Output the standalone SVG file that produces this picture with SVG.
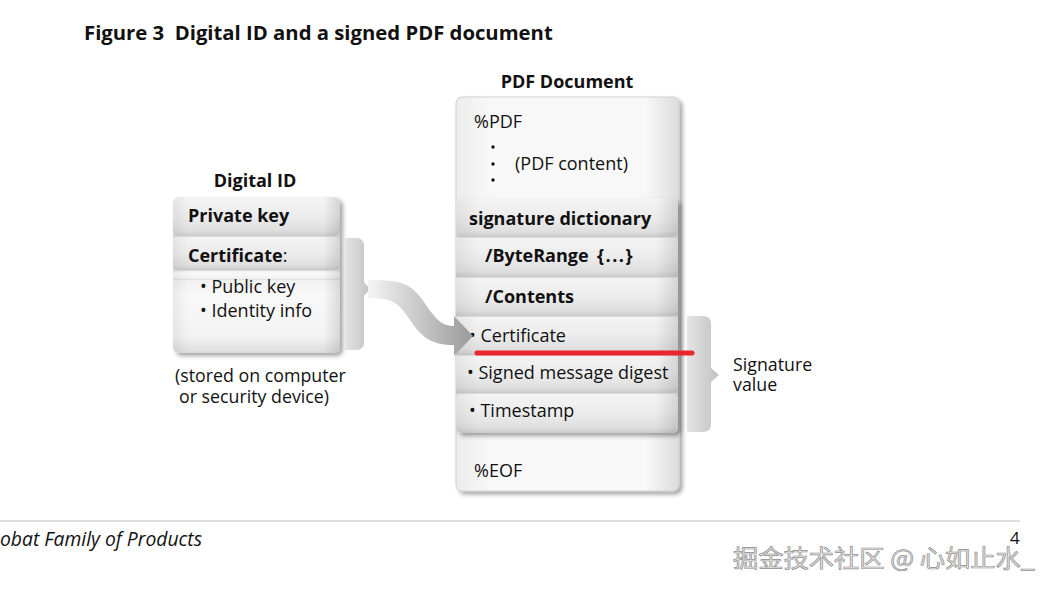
<svg xmlns="http://www.w3.org/2000/svg" width="1052" height="590" viewBox="0 0 1052 590">
<style>
text{font-family:"Open Sans","Liberation Sans",sans-serif;fill:#111}
.b{font-weight:bold}
.row{fill:url(#gRow)}
.sep{stroke:#c4c4c4;stroke-width:1}
</style>
<defs>
<linearGradient id="gRow" x1="0" y1="0" x2="0" y2="1">
<stop offset="0" stop-color="#f4f4f4"/>
<stop offset="0.5" stop-color="#ececec"/>
<stop offset="0.85" stop-color="#dfdfdf"/>
<stop offset="1" stop-color="#cbcbcb"/>
</linearGradient>
<linearGradient id="gBody" x1="0" y1="0" x2="0" y2="1">
<stop offset="0" stop-color="#ececec"/>
<stop offset="0.3" stop-color="#f9f9f9"/>
<stop offset="0.8" stop-color="#f3f3f3"/>
<stop offset="1" stop-color="#dcdcdc"/>
</linearGradient>
<linearGradient id="gDoc" x1="0" y1="0" x2="1" y2="0">
<stop offset="0" stop-color="#ececec"/>
<stop offset="0.15" stop-color="#f8f8f8"/>
<stop offset="0.85" stop-color="#f8f8f8"/>
<stop offset="1" stop-color="#dcdcdc"/>
</linearGradient>
<linearGradient id="gSide" x1="0" y1="0" x2="1" y2="0">
<stop offset="0" stop-color="#000" stop-opacity="0.06"/>
<stop offset="0.1" stop-color="#000" stop-opacity="0"/>
<stop offset="0.9" stop-color="#000" stop-opacity="0"/>
<stop offset="1" stop-color="#000" stop-opacity="0.12"/>
</linearGradient>
<linearGradient id="gBr" x1="0" y1="0" x2="1" y2="0">
<stop offset="0" stop-color="#e4e4e4"/>
<stop offset="1" stop-color="#c2c2c2"/>
</linearGradient>
<linearGradient id="gArrow" gradientUnits="userSpaceOnUse" x1="370" y1="0" x2="472" y2="0">
<stop offset="0" stop-color="#f3f3f3"/>
<stop offset="1" stop-color="#9a9a9a"/>
</linearGradient>
<filter id="sh" x="-10%" y="-10%" width="130%" height="130%">
<feDropShadow dx="3" dy="3" stdDeviation="2" flood-color="#000" flood-opacity="0.35"/>
</filter>
</defs>

<rect width="1052" height="590" fill="#ffffff"/>

<g id="title">
<text x="84" y="40" class="b" font-size="20.3" xml:space="preserve">Figure 3  Digital ID and a signed PDF document</text>
</g>

<g id="digital-id" font-size="18">
<text x="255" y="187" class="b" text-anchor="middle">Digital ID</text>
<rect x="173" y="197" width="167" height="156" rx="6" fill="#e8e8e8" filter="url(#sh)"/>
<rect x="173" y="270" width="167" height="83" rx="6" fill="url(#gBody)"/>
<rect x="173" y="270" width="167" height="10" fill="url(#gBody)"/>
<rect x="173" y="236" width="167" height="34" rx="5" class="row"/>
<rect x="173" y="197" width="167" height="39" rx="6" class="row"/>
<rect x="173" y="197" width="167" height="156" rx="6" fill="url(#gSide)"/>
<line x1="173" y1="236" x2="340" y2="236" class="sep"/>
<line x1="173" y1="270" x2="340" y2="270" class="sep"/>
<text x="188" y="222" class="b">Private key</text>
<text x="188" y="262"><tspan class="b">Certificate</tspan>:</text>
<text x="200" y="293">• Public key</text>
<text x="200" y="317">• Identity info</text>
<text x="175" y="382" font-size="17.8">(stored on computer</text>
<text x="179" y="403" font-size="17.8">or security device)</text>
</g>

<g id="pdf-document" font-size="18">
<text x="567" y="88" class="b" text-anchor="middle">PDF Document</text>
<rect x="456" y="97" width="223" height="394" rx="6" fill="url(#gDoc)" stroke="#cfcfcf" stroke-width="1" filter="url(#sh)"/>
<text x="474" y="128">%PDF</text>
<circle cx="493" cy="147" r="1.7" fill="#111"/>
<circle cx="493" cy="164" r="1.7" fill="#111"/>
<circle cx="493" cy="180" r="1.7" fill="#111"/>
<text x="515" y="170">(PDF content)</text>
<text x="474" y="477">%EOF</text>
</g>

<g id="signature-dictionary" font-size="18">
<rect x="456" y="198" width="222" height="235" rx="6" fill="#e6e6e6" filter="url(#sh)"/>
<rect x="456" y="393" width="222" height="40" rx="6" class="row"/>
<rect x="456" y="355" width="222" height="38" class="row"/>
<rect x="456" y="316" width="222" height="39" class="row"/>
<rect x="456" y="277" width="222" height="39" class="row"/>
<rect x="456" y="237" width="222" height="40" class="row"/>
<rect x="456" y="198" width="222" height="39" rx="6" class="row"/>
<rect x="456" y="198" width="222" height="235" rx="6" fill="url(#gSide)"/>
<g class="sep">
<line x1="456" y1="237" x2="678" y2="237"/>
<line x1="456" y1="277" x2="678" y2="277"/>
<line x1="456" y1="316" x2="678" y2="316"/>
<line x1="456" y1="355" x2="678" y2="355"/>
<line x1="456" y1="393" x2="678" y2="393"/>
</g>
<text x="469" y="225" class="b">signature dictionary</text>
<text x="485" y="262" class="b">/ByteRange<tspan x="597" letter-spacing="1.5">{...}</tspan></text>
<text x="485" y="303" class="b">/Contents</text>
<text x="469" y="342">• Certificate</text>
<text x="467" y="379">• Signed message digest</text>
<text x="469" y="417">• Timestamp</text>
</g>

<g id="signature-value" font-size="17.8">
<path d="M687,316 H703 Q711,316 711,324 V368 L719,375 L711,382 V424 Q711,432 703,432 H687 Z" fill="url(#gBr)"/>
<text x="733" y="371">Signature</text>
<text x="733" y="391">value</text>
</g>

<g id="connectors">
<path d="M345,238 H356 Q364,238 364,246 V282 L370,289 L364,296 V342 Q364,350 356,350 H345 Z" fill="url(#gBr)"/>
<path d="M368,280 C400,280 410,282 424,302 C436,320 442,326 454,326 L454,316 L473,336 L454,356 L454,345 C432,345 422,338 410,320 C398,302 392,298 368,298 Z" fill="url(#gArrow)"/>
<line x1="477" y1="353" x2="692" y2="353" stroke="#e8262b" stroke-width="5" stroke-linecap="round"/>
</g>

<g id="footer">
<line x1="0" y1="521" x2="1020" y2="521" stroke="#d0d0d0" stroke-width="1.5"/>
<text x="0" y="546" font-style="italic" font-size="20" textLength="202" lengthAdjust="spacingAndGlyphs">obat Family of Products</text>
<text x="1010" y="544" font-size="17">4</text>
</g>

<g id="watermark">
<text x="733" y="567" style="font-family:'Noto Sans CJK SC',sans-serif;font-size:24px;fill:#e6e6e6;stroke:#8f8f8f;stroke-width:0.7px" textLength="302" lengthAdjust="spacingAndGlyphs">掘金技术社区 @ 心如止水_</text>
</g>
</svg>
